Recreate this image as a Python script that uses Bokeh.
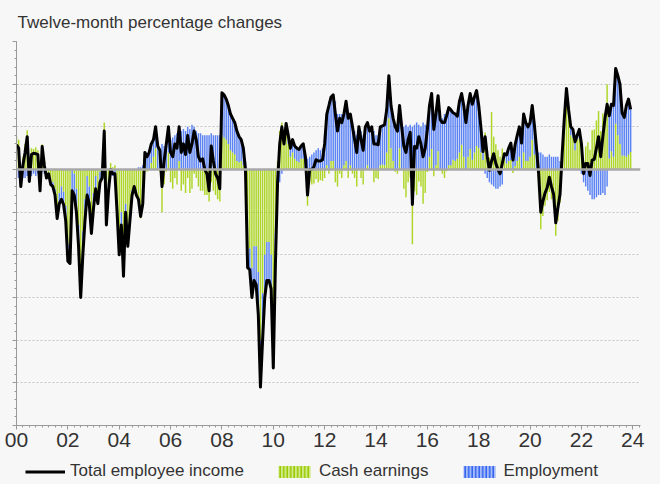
from bokeh.plotting import figure
from bokeh.layouts import column
from bokeh.models import Range1d, FixedTicker, Span, Legend, LegendItem, ColumnDataSource
from bokeh.embed import file_html
from bokeh.resources import INLINE

start_year = 2000

# Twelve-month % change, total employee income (monthly, Jan 2000 - Dec 2023)
total_income = [
    0.58, 0.5, -0.4, 0.1, 0.4, 0.77, -0.28, 0.35, 0.38, 0.37, 0.35, -0.5,
    0.54, 0.1, -0.2, -0.1, -0.35, -0.4, -0.6, -1.15, -0.8, -0.7, -0.82, -1.2,
    -2.15, -2.2, -0.5, -0.6, -1.0, -1.8, -3.0, -2.0, -1.2, -0.6, -0.8, -1.5,
    -0.9, -0.45, -0.8, -0.3, -0.2, 0.9, -1.3, -0.5, 0.0, -0.1, -0.1, -1.0,
    -2.0, -1.3, -2.5, -1.0, -1.8, -1.2, -0.6, -0.4, -0.6, -0.7, -1.1, -0.8,
    0.4, 0.3, 0.4, 0.6, 0.7, 1.0, 0.55, 0.45, -0.4, 0.2, 0.6, 1.0,
    0.4, 0.3, 0.6, 0.5, 1.0, 0.4, 0.6, 0.35, 0.8, 0.4, 0.6, 0.9,
    0.7, 0.3, 0.2, 0.25, 0.0, -0.1, -0.5, 0.55, 0.2, -0.1, -0.2, -0.45,
    1.8, 1.75, 1.65, 1.5, 1.3, 1.2, 1.1, 0.9, 0.77, 0.7, 0.5, 0.0,
    -2.3, -2.35, -3.0, -2.6, -2.7, -3.4, -5.1, -4.0, -3.0, -2.6, -2.6, -2.8,
    -4.65, -2.2, -0.3, 0.6, 1.0, 0.6, 1.08, 0.8, 0.5, 0.7, 0.55, 0.5,
    0.47, 0.55, 0.6, 0.3, -0.6, 0.0, 0.0, 0.07, 0.23, 0.2, 0.2, 0.23,
    0.6, 1.3, 1.5, 1.7, 1.75, 1.3, 0.9, 1.2, 1.1, 1.3, 1.6, 1.2,
    1.3, 1.0, 0.7, 0.4, 1.0, 0.7, 0.45, 1.0, 1.1, 0.9, 1.0, 0.6,
    0.6, 0.58, 1.0, 1.02, 1.05, 1.4, 2.2, 1.5, 1.2, 1.0, 0.9, 1.5,
    1.0, 0.55, 0.4, 0.7, 0.87, -0.82, 0.54, 0.5, 0.77, 0.6, 0.3, 0.5,
    0.94, 1.5, 1.78, 0.94, 1.3, 1.73, 1.17, 1.1, 1.1, 1.26, 1.45, 1.4,
    1.33, 1.3, 1.25, 1.6, 1.78, 1.5, 1.1, 1.5, 1.78, 1.53, 1.7, 1.85,
    1.5, 1.0, 0.42, 0.77, 0.3, -0.02, 0.2, 0.37, 0.14, 0.0, -0.1, 0.14,
    0.37, 0.34, 0.5, 0.62, 0.22, 0.58, 0.8, 1.0, 0.62, 1.3, 1.1, 1.0,
    1.1, 1.5, 1.05, 0.5, -0.1, -1.0, -0.74, -0.55, -0.42, -0.18, -0.4, -0.58,
    -1.25, -0.9, -0.58, 0.37, 1.2, 1.9, 1.4, 1.0, 0.94, 0.65, 0.8, 0.94,
    0.6, -0.1, 0.14, 0.14, -0.14, 0.22, 0.24, 0.5, 0.77, 0.3, 0.77, 1.2,
    1.53, 1.26, 1.53, 1.5, 2.37, 2.2, 2.0, 1.33, 1.22, 1.5, 1.65, 1.41,
]

# Contribution of cash earnings
cash_earnings = [
    0.78, 0.7, -0.15, 0.3, 0.6, 0.92, -0.08, 0.5, 0.48, 0.52, 0.45, -0.4,
    0.59, 0.2, -0.1, -0.1, -0.3, -0.3, -0.45, -0.95, -0.55, -0.4, -0.52, -0.85,
    -1.75, -1.75, 0.0, -0.1, -0.45, -1.3, -2.4, -1.45, -0.7, -0.15, -0.4, -1.1,
    -0.55, -0.15, -0.5, -0.05, 0.0, 1.1, -1.1, -0.3, 0.15, 0.05, 0.1, -0.8,
    -1.8, -1.0, -2.2, -0.8, -1.6, -1.1, -0.5, -0.4, -0.6, -0.75, -1.15, -0.9,
    0.1, -0.05, 0.0, 0.15, 0.3, 0.5, 0.0, -0.05, -1.0, -0.35, -0.05, 0.4,
    -0.3, -0.45, -0.2, -0.35, 0.2, -0.5, -0.35, -0.55, -0.2, -0.55, -0.45, -0.1,
    -0.2, -0.4, -0.5, -0.5, -0.6, -0.6, -0.75, -0.3, -0.5, -0.6, -0.7, -0.75,
    0.8, 0.75, 0.7, 0.6, 0.45, 0.4, 0.35, 0.2, 0.17, 0.2, 0.1, -0.2,
    -2.0, -1.85, -2.3, -1.8, -1.8, -2.4, -4.0, -2.9, -2.0, -1.7, -1.7, -2.0,
    -3.75, -1.5, 0.2, 0.9, 1.1, 0.6, 0.98, 0.6, 0.3, 0.4, 0.25, 0.2,
    0.17, 0.25, 0.25, 0.0, -0.85, -0.3, -0.35, -0.33, -0.22, -0.3, -0.25, -0.27,
    -0.2, 0.1, -0.1, 0.2, 0.2, -0.3, -0.4, -0.1, -0.2, 0.1, 0.2, -0.2,
    0.1, -0.1, -0.2, -0.4, 0.0, -0.2, -0.35, 0.0, 0.1, 0.0, 0.0, -0.3,
    -0.2, -0.22, 0.1, 0.12, 0.1, 0.4, 1.2, 0.5, 0.2, -0.05, -0.1, 0.5,
    0.0, -0.45, -0.65, -0.3, -0.18, -1.75, -0.51, -0.6, -0.28, -0.4, -0.8, -0.55,
    -0.06, 0.3, 0.48, -0.16, 0.1, 0.43, -0.03, -0.1, -0.2, -0.04, 0.1, 0.1,
    0.23, 0.2, 0.25, 0.4, 0.58, 0.3, 0.0, 0.3, 0.48, 0.23, 0.4, 0.55,
    0.5, 0.4, 0.22, 0.87, 0.5, 0.28, 1.35, 0.77, 0.59, 0.45, 0.3, 0.49,
    0.27, 0.14, 0.2, 0.22, -0.08, 0.08, 0.2, 0.3, 0.02, 0.4, 0.2, 0.2,
    0.3, 0.7, 0.35, 0.0, -0.5, -1.4, -1.09, -0.85, -0.72, -0.53, -0.7, -0.88,
    -1.55, -1.2, -0.78, 0.17, 1.1, 1.8, 1.3, 0.8, 0.74, 0.45, 0.7, 0.74,
    0.7, 0.2, 0.54, 0.64, 0.46, 0.92, 0.94, 1.15, 1.37, 0.9, 1.32, 1.2,
    2.0, 0.26, 0.43, 0.3, 1.07, 0.8, 0.6, 0.33, 0.32, 0.3, 0.35, 0.41,
]

# Contribution of employment
employment = [
    -0.2, -0.2, -0.25, -0.2, -0.2, -0.15, -0.2, -0.15, -0.1, -0.15, -0.1, -0.1,
    -0.05, -0.1, -0.1, 0.0, -0.05, -0.1, -0.15, -0.2, -0.25, -0.3, -0.3, -0.35,
    -0.4, -0.45, -0.5, -0.5, -0.55, -0.5, -0.6, -0.55, -0.5, -0.45, -0.4, -0.4,
    -0.35, -0.3, -0.3, -0.25, -0.2, -0.2, -0.2, -0.2, -0.15, -0.15, -0.2, -0.2,
    -0.2, -0.3, -0.3, -0.2, -0.2, -0.1, -0.1, 0.0, 0.0, 0.05, 0.05, 0.1,
    0.3, 0.35, 0.4, 0.45, 0.4, 0.5, 0.55, 0.5, 0.6, 0.55, 0.65, 0.6,
    0.7, 0.75, 0.8, 0.85, 0.8, 0.9, 0.95, 0.9, 1.0, 0.95, 1.05, 1.0,
    0.9, 0.85, 0.85, 0.8, 0.8, 0.8, 0.8, 0.85, 0.8, 0.8, 0.8, 0.8,
    1.0, 1.0, 0.95, 0.9, 0.85, 0.8, 0.75, 0.7, 0.6, 0.5, 0.4, 0.2,
    -0.3, -0.5, -0.7, -0.8, -0.9, -1.0, -1.1, -1.1, -1.0, -0.9, -0.9, -0.8,
    -0.9, -0.7, -0.5, -0.3, -0.1, 0.0, 0.1, 0.2, 0.2, 0.3, 0.3, 0.3,
    0.3, 0.3, 0.35, 0.3, 0.25, 0.3, 0.35, 0.4, 0.45, 0.5, 0.45, 0.5,
    0.8, 1.2, 1.6, 1.5, 1.55, 1.6, 1.3, 1.3, 1.3, 1.2, 1.4, 1.4,
    1.2, 1.1, 0.9, 0.8, 1.0, 0.9, 0.8, 1.0, 1.0, 0.9, 1.0, 0.9,
    0.8, 0.8, 0.9, 0.9, 0.95, 1.0, 1.0, 1.0, 1.0, 1.05, 1.0, 1.0,
    1.0, 1.0, 1.05, 1.0, 1.05, 1.0, 1.05, 1.1, 1.05, 1.0, 1.1, 1.05,
    1.0, 1.2, 1.3, 1.1, 1.2, 1.3, 1.2, 1.2, 1.3, 1.3, 1.35, 1.3,
    1.1, 1.1, 1.0, 1.2, 1.2, 1.2, 1.1, 1.2, 1.3, 1.3, 1.3, 1.3,
    1.0, 0.6, 0.2, -0.1, -0.2, -0.3, -0.35, -0.4, -0.45, -0.45, -0.4, -0.35,
    0.1, 0.2, 0.3, 0.4, 0.3, 0.5, 0.6, 0.7, 0.6, 0.9, 0.9, 0.8,
    0.8, 0.8, 0.7, 0.5, 0.4, 0.4, 0.35, 0.3, 0.3, 0.35, 0.3, 0.3,
    0.3, 0.3, 0.2, 0.2, 0.1, 0.1, 0.1, 0.2, 0.2, 0.2, 0.1, 0.2,
    -0.1, -0.3, -0.4, -0.5, -0.6, -0.7, -0.7, -0.65, -0.6, -0.6, -0.55, -0.6,
    -0.4, 1.0, 1.1, 1.2, 1.3, 1.4, 1.4, 1.0, 0.9, 1.2, 1.3, 1.0,
]

tick_years = [2000, 2002, 2004, 2006, 2008, 2010, 2012, 2014, 2016, 2018, 2020, 2022, 2024]
tick_labels = ["00", "02", "04", "06", "08", "10", "12", "14", "16", "18", "20", "22", "24"]
y_ticks = [-6, -5, -4, -3, -2, -1, 0, 1, 2, 3]
series_names = ["Total employee income", "Cash earnings", "Employment"]

FONT = "Liberation Sans"
BG = "#f7f7f7"
GREEN = "#a4d10a"
BLUE = "#3f6ff3"

n = len(total_income)
months = [start_year + i / 12 for i in range(n)]
# stacking: cash first from zero, employment stacked on it when same sign
emp_bottom = [c if (c >= 0) == (e >= 0) else 0.0 for c, e in zip(cash_earnings, employment)]
emp_top = [b + e for b, e in zip(emp_bottom, employment)]

src = ColumnDataSource(dict(x=months, total=total_income, cash=cash_earnings,
                            zero=[0.0] * n, eb=emp_bottom, et=emp_top))

p = figure(width=660, height=459, output_backend="svg", toolbar_location=None,
           x_range=Range1d(2000, 2024.3), y_range=Range1d(-6, 3),
           min_border_left=16, min_border_right=20, min_border_top=40, min_border_bottom=34,
           background_fill_color=BG, border_fill_color=BG, outline_line_color=None)

p.title.text = "Twelve-month percentage changes"
p.title.text_font = FONT
p.title.text_font_size = "17px"
p.title.text_font_style = "normal"
p.title.text_color = "#333333"
p.title.align = "left"
p.title.offset = 1
p.title.standoff = 20

bw = 0.68 / 12
p.vbar(x="x", width=bw, bottom="zero", top="cash", source=src,
       fill_color=GREEN, fill_alpha=0.88, line_color=None)
p.vbar(x="x", width=bw, bottom="eb", top="et", source=src,
       fill_color=BLUE, fill_alpha=0.85, line_color=None)

p.add_layout(Span(location=0, dimension="width", line_color="#a8a8a8", line_width=2.5))

p.line(x="x", y="total", source=src, line_color="black", line_width=3, line_join="round")

# x axis
xa = p.xaxis[0]
xa.ticker = FixedTicker(ticks=tick_years,
                        minor_ticks=[start_year + q / 4 for q in range(0, 98)])
xa.major_label_overrides = {y: l for y, l in zip(tick_years, tick_labels)}
xa.axis_line_color = "#999999"
xa.major_tick_line_color = "#999999"
xa.minor_tick_line_color = "#999999"
xa.major_tick_in = 0
xa.major_tick_out = 4
xa.minor_tick_in = 0
xa.minor_tick_out = 2
xa.major_label_text_font = FONT
xa.major_label_text_font_size = "21px"
xa.major_label_text_color = "#333333"
xa.major_label_standoff = 3

# y axis (its labels lie outside the cropped original)
ya = p.yaxis[0]
ya.ticker = FixedTicker(ticks=y_ticks, minor_ticks=[-6 + k * 0.2 for k in range(46)])
ya.axis_line_color = "#999999"
ya.major_tick_line_color = "#999999"
ya.minor_tick_line_color = "#999999"
ya.major_tick_in = 0
ya.major_tick_out = 4
ya.minor_tick_in = 0
ya.minor_tick_out = 2
ya.major_label_overrides = {t: "" for t in y_ticks}
ya.major_label_standoff = 0

p.xgrid.grid_line_color = None
p.ygrid.grid_line_color = "#c4c4c4"
p.ygrid.grid_line_dash = "2 2"
p.ygrid.grid_line_width = 1

# legend strip below the chart
lg = figure(frame_width=660, frame_height=25, output_backend="svg", toolbar_location=None,
            x_range=Range1d(0, 1), y_range=Range1d(0, 1),
            min_border=0, x_axis_location=None, y_axis_location=None,
            background_fill_color=BG, border_fill_color=BG, outline_line_color=None)
lg.grid.visible = False
r_line = lg.line(x=[5, 6], y=[5, 6], line_color="black", line_width=3)
r_cash = lg.vbar(x=[5], top=[6], width=0.1, fill_color="#d2e98a", line_color=None,
                 hatch_pattern="|", hatch_color="#99cb00", hatch_scale=3.5, hatch_weight=1.6)
r_emp = lg.vbar(x=[5], top=[6], width=0.1, fill_color="#a3baf8", line_color=None,
                hatch_pattern="|", hatch_color="#3566f0", hatch_scale=3.5, hatch_weight=1.6)

legend = Legend(items=[LegendItem(label=series_names[0], renderers=[r_line]),
                       LegendItem(label=series_names[1], renderers=[r_cash]),
                       LegendItem(label=series_names[2], renderers=[r_emp])],
                orientation="horizontal", location=(25, 3),
                border_line_color=None, background_fill_alpha=0,
                padding=0, margin=0, spacing=30, glyph_width=40, glyph_height=15,
                label_standoff=5, label_text_font=FONT, label_text_font_size="17px",
                label_text_color="#333333")
lg.add_layout(legend, "center")

layout = column(p, lg, spacing=0, styles={"background-color": BG})
open("out.html", "w").write(file_html(layout, INLINE))
